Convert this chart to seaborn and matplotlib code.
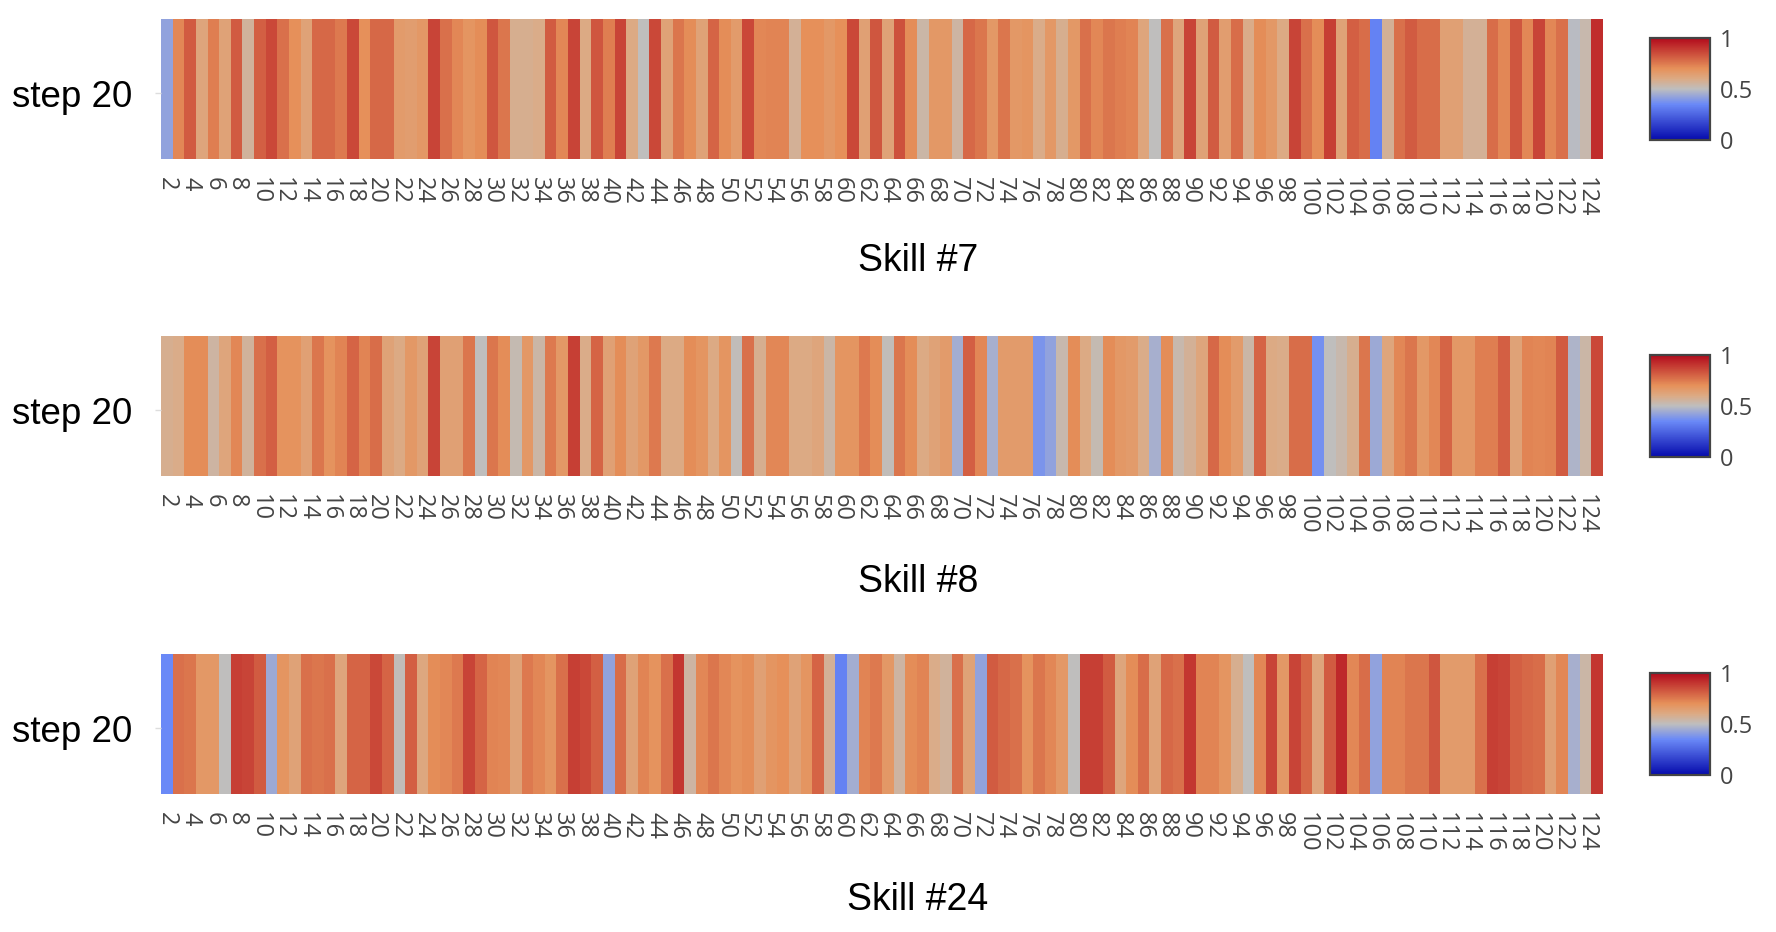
import numpy as np
import pandas as pd
import matplotlib
matplotlib.use("Agg")
import matplotlib.pyplot as plt
from matplotlib.colors import LinearSegmentedColormap
import seaborn as sns

#%% data (one value per unit, units 2..125)
units = list(range(2, 126))
row_label = "step 20"

skill7 = [0.42, 0.72, 0.82, 0.62, 0.74, 0.63, 0.82, 0.56, 0.81, 0.86,
          0.77, 0.70, 0.63, 0.79, 0.79, 0.75, 0.86, 0.70, 0.79, 0.79,
          0.66, 0.65, 0.67, 0.87, 0.77, 0.72, 0.68, 0.71, 0.83, 0.76,
          0.58, 0.58, 0.59, 0.82, 0.72, 0.87, 0.60, 0.83, 0.74, 0.87,
          0.60, 0.50, 0.86, 0.63, 0.76, 0.71, 0.63, 0.80, 0.71, 0.66,
          0.86, 0.72, 0.73, 0.73, 0.57, 0.70, 0.70, 0.67, 0.70, 0.86,
          0.64, 0.83, 0.63, 0.84, 0.71, 0.54, 0.67, 0.67, 0.55, 0.79,
          0.76, 0.67, 0.76, 0.67, 0.68, 0.59, 0.67, 0.58, 0.67, 0.77,
          0.72, 0.76, 0.74, 0.73, 0.62, 0.50, 0.77, 0.62, 0.87, 0.63,
          0.82, 0.65, 0.78, 0.59, 0.71, 0.67, 0.60, 0.87, 0.77, 0.71,
          0.88, 0.63, 0.81, 0.78, 0.33, 0.57, 0.77, 0.82, 0.78, 0.78,
          0.64, 0.64, 0.57, 0.57, 0.78, 0.72, 0.83, 0.72, 0.87, 0.72,
          0.77, 0.49, 0.53, 0.92]

skill8 = [0.58, 0.59, 0.71, 0.71, 0.55, 0.62, 0.72, 0.56, 0.77, 0.81,
          0.69, 0.69, 0.64, 0.76, 0.69, 0.73, 0.80, 0.73, 0.78, 0.63,
          0.60, 0.67, 0.63, 0.87, 0.64, 0.64, 0.76, 0.50, 0.76, 0.71,
          0.52, 0.67, 0.54, 0.75, 0.67, 0.88, 0.59, 0.80, 0.64, 0.71,
          0.63, 0.67, 0.75, 0.60, 0.60, 0.71, 0.68, 0.60, 0.68, 0.51,
          0.77, 0.58, 0.72, 0.72, 0.60, 0.60, 0.62, 0.54, 0.68, 0.68,
          0.75, 0.71, 0.51, 0.76, 0.71, 0.60, 0.63, 0.66, 0.45, 0.81,
          0.72, 0.46, 0.66, 0.66, 0.66, 0.38, 0.42, 0.53, 0.71, 0.60,
          0.52, 0.71, 0.67, 0.66, 0.59, 0.46, 0.71, 0.53, 0.57, 0.62,
          0.79, 0.71, 0.66, 0.54, 0.80, 0.60, 0.59, 0.78, 0.78, 0.37,
          0.50, 0.53, 0.58, 0.76, 0.44, 0.62, 0.72, 0.76, 0.67, 0.72,
          0.80, 0.67, 0.67, 0.74, 0.74, 0.81, 0.63, 0.73, 0.72, 0.73,
          0.82, 0.47, 0.54, 0.86]

skill24 = [0.35, 0.77, 0.76, 0.67, 0.67, 0.50, 0.88, 0.87, 0.82, 0.44,
           0.68, 0.63, 0.77, 0.76, 0.77, 0.62, 0.80, 0.80, 0.86, 0.80,
           0.51, 0.81, 0.61, 0.71, 0.72, 0.75, 0.87, 0.80, 0.73, 0.72,
           0.63, 0.75, 0.72, 0.68, 0.77, 0.88, 0.86, 0.81, 0.42, 0.78,
           0.63, 0.73, 0.69, 0.77, 0.90, 0.55, 0.72, 0.76, 0.72, 0.69,
           0.71, 0.64, 0.68, 0.70, 0.63, 0.68, 0.80, 0.57, 0.33, 0.45,
           0.73, 0.75, 0.67, 0.55, 0.71, 0.73, 0.59, 0.56, 0.77, 0.63,
           0.42, 0.82, 0.79, 0.77, 0.69, 0.76, 0.72, 0.67, 0.50, 0.88,
           0.88, 0.82, 0.62, 0.71, 0.78, 0.63, 0.79, 0.77, 0.90, 0.73,
           0.73, 0.68, 0.58, 0.50, 0.72, 0.87, 0.67, 0.87, 0.79, 0.62,
           0.82, 0.93, 0.72, 0.78, 0.42, 0.73, 0.73, 0.76, 0.76, 0.83,
           0.66, 0.66, 0.66, 0.77, 0.88, 0.87, 0.81, 0.79, 0.78, 0.64,
           0.72, 0.46, 0.54, 0.90]

titles = ["Skill #7", "Skill #8", "Skill #24"]
series = [skill7, skill8, skill24]

#%% colour scale (blue - grey - orange - red)
stops = [(0.0, (5, 10, 172)), (0.35, (106, 137, 247)), (0.5, (190, 190, 190)),
         (0.6, (220, 170, 132)), (0.7, (230, 145, 90)), (1.0, (178, 10, 28))]
cmap = LinearSegmentedColormap.from_list(
    "rdbu_plotly", [(p, tuple(c / 255 for c in rgb)) for p, rgb in stops])

#%% figure
W, H = 1776, 932
fig = plt.figure(figsize=(W / 100, H / 100), dpi=100)

left, right = 161, 1603
row_tops = [19, 336, 654]
row_h = 140
cb_x, cb_w, cb_h = 1650, 60, 102
title_y = [261, 582, 900]

for vals, title, top, ty in zip(series, titles, row_tops, title_y):
    ax = fig.add_axes([left / W, 1 - (top + row_h) / H, (right - left) / W, row_h / H])
    cb_top = top + (row_h - cb_h) / 2
    cax = fig.add_axes([cb_x / W, 1 - (cb_top + cb_h) / H, cb_w / W, cb_h / H])

    df = pd.DataFrame([vals], index=[row_label], columns=units)
    sns.heatmap(df, ax=ax, cmap=cmap, vmin=0, vmax=1, cbar_ax=cax,
                xticklabels=2, yticklabels=True, linewidths=0,
                cbar_kws={"ticks": [0, 0.5, 1]})

    # row label sits a touch below the middle of the strip
    ax.set_yticks([0.53])
    ax.set_yticklabels([row_label])
    plt.setp(ax.get_xticklabels(), rotation=-90, ha="center", va="top",
             fontfamily="Open Sans", fontsize=17, color="#444444")
    plt.setp(ax.get_yticklabels(), rotation=0, va="center_baseline",
             fontfamily="Liberation Sans", fontsize=26.5, color="black")
    ax.tick_params(axis="x", length=0, pad=13)
    ax.tick_params(axis="y", length=4, width=1, color="#dddddd", pad=17)
    ax.set_xlabel("")
    ax.set_ylabel("")

    cb = ax.collections[0].colorbar
    cb.set_ticklabels(["0", "0.5", "1"])
    cb.outline.set_edgecolor("#444444")
    cb.outline.set_linewidth(1.6)
    cax.tick_params(length=0, pad=7, labelsize=17, labelcolor="#444444")
    plt.setp(cax.get_yticklabels(), fontfamily="Open Sans")

    fig.text(918 / W, 1 - ty / H, title, ha="center", va="center",
             fontsize=27, fontfamily="Liberation Sans", color="black")

fig.savefig("out.png", dpi=100)
